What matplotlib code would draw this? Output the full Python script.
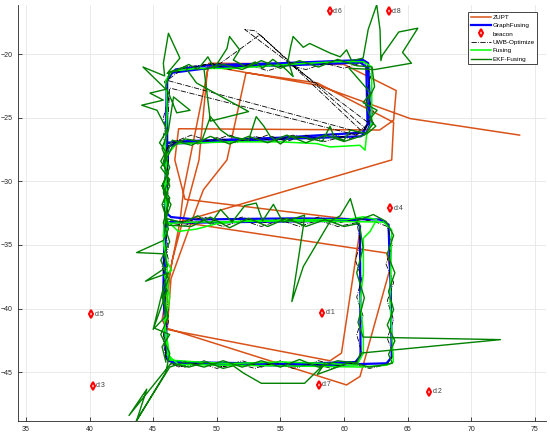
import numpy as np
import matplotlib
matplotlib.use("Agg")
import matplotlib.pyplot as plt

plt.rcParams['font.family'] = ['Liberation Sans', 'DejaVu Sans']

# ZUPT (orange) trajectory
zupt = [(45.9, -41.44), (46.3, -37.25), (47.1, -33.2), (47.4, -30.66), (49.4, -20.72),
        (60.0, -20.82), (64.1, -22.87), (63.9, -25.2), (62.8, -25.97), (47.0, -25.87),
        (46.7, -28.32), (47.5, -31.41), (61.0, -33.05), (61.3, -33.55), (59.8, -43.5),
        (58.9, -44.1), (46.1, -41.64), (46.4, -37.65), (48.4, -32.11), (48.95, -30.66),
        (50.8, -28.32), (52.3, -21.47), (57.9, -22.27), (63.9, -25.37), (63.75, -28.32),
        (47.1, -33.2), (63.36, -35.64), (63.62, -36.85), (61.26, -45.33), (60.2, -46.0),
        (46.06, -41.54), (45.7, -40.89), (46.5, -36.2), (48.6, -28.32), (49.3, -20.92),
        (58.0, -22.47), (65.2, -25.07), (73.8, -26.37)]

# GraphFusing (blue)
graph = [(46.15, -43.9), (45.85, -38.55), (45.95, -33.25), (46.0, -27.45), (46.06, -22.17),
         (46.3, -21.57), (46.8, -21.2), (49.5, -20.87), (55.0, -20.72), (61.5, -20.47),
         (61.9, -20.72), (62.0, -23.07), (62.0, -25.67), (61.8, -26.12), (61.3, -26.47),
         (53.7, -26.72), (46.9, -27.02), (46.2, -27.25), (46.05, -29.86), (46.06, -32.51),
         (46.4, -32.81), (48.4, -33.0), (56.3, -32.91), (62.8, -33.0), (63.5, -33.4),
         (63.67, -38.55), (63.75, -43.8), (63.35, -44.3), (56.3, -44.5), (46.6, -44.3),
         (46.06, -43.9), (45.8, -38.55), (45.9, -33.55), (46.3, -33.2), (48.0, -33.25),
         (56.0, -33.15), (60.9, -33.1), (61.25, -33.55), (61.28, -38.65), (61.3, -43.7),
         (60.9, -44.2), (56.0, -44.35), (46.5, -44.2), (46.05, -43.8), (45.9, -38.15),
         (46.0, -33.75), (46.1, -27.45), (46.1, -22.07), (46.5, -21.47), (50.0, -21.02),
         (56.0, -20.87), (61.3, -20.67), (61.75, -21.02), (61.85, -25.47), (61.5, -26.17),
         (55.0, -26.57), (47.0, -26.87), (46.2, -26.97)]

# UWB-Optimize (black dash-dot)
uwb = [(46.0, -44.0), (45.8, -42.54), (46.2, -41.04), (45.9, -39.59), (46.1, -38.15),
       (45.7, -36.7), (46.2, -35.2), (45.9, -33.75), (46.1, -32.31), (45.8, -30.86),
       (46.2, -29.36), (45.9, -27.92), (46.1, -26.47), (45.8, -25.02), (46.2, -23.52),
       (45.9, -22.17), (46.5, -21.42), (48.0, -21.12), (49.5, -20.72), (51.0, -21.22),
       (52.5, -20.82), (54.0, -21.32), (55.5, -20.82), (57.0, -21.22), (58.5, -20.72),
       (60.0, -21.12), (61.6, -20.62), (62.1, -21.62), (61.8, -23.07), (62.3, -24.52),
       (61.7, -25.87), (60.5, -26.67), (59.0, -26.27), (57.5, -26.77), (56.0, -26.37),
       (54.5, -26.87), (53.0, -26.47), (51.5, -26.97), (50.0, -26.57), (48.5, -27.07),
       (47.0, -26.77), (46.1, -27.37), (45.9, -28.92), (46.2, -30.36), (45.8, -31.81),
       (46.0, -33.0), (47.5, -33.2), (49.0, -32.81), (50.5, -33.3), (52.0, -32.81),
       (53.5, -33.3), (55.0, -32.91), (56.5, -33.3), (58.0, -32.81), (59.5, -33.3),
       (61.0, -32.91), (62.5, -33.2), (63.4, -33.55), (63.8, -35.05), (63.3, -36.5),
       (63.9, -37.95), (63.4, -39.4), (63.9, -40.89), (63.4, -42.34), (63.9, -43.6),
       (63.4, -44.4), (62.0, -44.7), (60.5, -44.3), (59.0, -44.7), (57.5, -44.3),
       (56.0, -44.7), (54.5, -44.2), (53.0, -44.7), (51.5, -44.3), (50.0, -44.7),
       (48.5, -44.2), (47.0, -44.6), (46.1, -44.1), (45.8, -42.04), (46.2, -40.09),
       (45.8, -38.15), (46.2, -36.2), (45.8, -34.25), (46.1, -32.31), (45.8, -30.36),
       (46.2, -28.42), (45.8, -26.47), (46.2, -24.52), (46.3, -22.67), (61.0, -26.37),
       (61.3, -26.17), (46.1, -22.07), (47.5, -21.02), (50.3, -20.72), (53.4, -18.47),
       (61.3, -25.97), (62.0, -25.47), (52.2, -18.07), (53.0, -18.17), (61.7, -25.87),
       (60.0, -26.47), (58.5, -26.87), (57.0, -26.37), (55.5, -26.87), (54.0, -26.37),
       (52.5, -26.87), (51.0, -26.37), (49.5, -26.87), (48.0, -26.37), (46.2, -27.07),
       (46.0, -29.36), (46.2, -31.31), (45.9, -33.25), (47.5, -33.45), (49.0, -33.05),
       (50.5, -33.55), (52.0, -33.05), (53.5, -33.55), (55.0, -33.05), (56.5, -33.55),
       (58.0, -33.05), (59.5, -33.55), (61.0, -33.25), (61.3, -34.75), (60.9, -36.2),
       (61.4, -37.65), (61.0, -39.1), (61.5, -40.59), (61.0, -42.04), (61.4, -43.5),
       (60.9, -44.2), (59.5, -44.5), (58.0, -44.1), (56.5, -44.6), (55.0, -44.1),
       (53.5, -44.6), (52.0, -44.1), (50.5, -44.6), (49.0, -44.1), (47.5, -44.6),
       (46.3, -44.4)]

# Fusing (light green)
fusing = [(46.2, -44.0), (45.9, -41.54), (46.3, -39.09), (45.9, -37.45), (46.46, -36.98),
          (46.06, -36.3), (45.8, -34.25), (46.1, -31.31), (45.9, -28.42), (46.1, -24.52),
          (46.0, -22.07), (46.46, -21.35), (48.42, -21.13), (51.04, -21.13), (53.14, -21.0),
          (54.97, -20.86), (57.07, -20.73), (59.43, -20.6), (61.52, -20.6), (62.18, -21.0),
          (62.18, -25.42), (61.79, -26.23), (61.65, -27.55), (61.26, -27.17), (58.9, -27.3),
          (57.86, -27.04), (54.97, -26.9), (51.04, -26.9), (46.85, -27.04), (46.1, -27.92),
          (45.9, -30.86), (46.06, -33.06), (46.98, -33.94), (48.42, -33.75), (50.0, -33.33),
          (52.35, -33.11), (54.97, -33.06), (57.59, -33.01), (60.21, -33.01), (61.52, -32.79),
          (62.57, -33.01), (62.05, -33.94), (61.52, -34.48), (61.52, -37.26), (61.26, -39.36),
          (61.52, -41.94), (61.52, -43.51), (61.0, -44.45), (58.9, -44.32), (54.97, -44.19),
          (51.04, -44.32), (48.42, -44.19), (46.33, -44.05), (45.9, -41.04), (46.2, -37.65),
          (45.8, -34.75), (46.2, -33.31), (48.0, -33.21), (55.0, -33.11), (63.1, -33.2),
          (63.75, -33.81), (63.62, -39.36), (63.88, -44.19), (63.36, -44.45), (61.26, -44.59),
          (55.0, -44.5), (47.0, -44.4), (46.1, -43.6)]

# EKF-Fusing (dark green)
ekf = [(46.0, -44.2), (45.7, -43.0), (46.3, -42.04), (45.1, -41.54), (46.0, -40.59),
       (45.8, -39.09), (46.1, -38.55), (45.0, -41.64), (45.9, -37.95), (46.2, -37.2),
       (44.4, -37.85), (46.1, -36.7), (45.9, -35.7), (43.7, -35.6), (45.8, -34.65),
       (46.2, -33.75), (45.9, -32.81), (46.3, -31.31), (45.7, -30.36), (46.2, -29.36),
       (45.6, -28.42), (46.0, -27.67), (45.5, -26.97), (46.1, -25.97), (45.3, -24.42),
       (44.1, -24.02), (45.8, -23.62), (44.75, -23.07), (46.0, -22.77), (44.2, -21.02),
       (45.9, -21.72), (45.8, -20.72), (46.2, -18.37), (47.1, -20.32), (46.1, -21.52),
       (46.8, -21.32), (47.8, -20.82), (48.5, -21.22), (49.3, -20.22), (49.8, -21.12),
       (50.8, -19.57), (51.0, -18.62), (51.8, -19.67), (51.3, -20.47), (52.3, -21.02),
       (53.0, -20.62), (53.6, -21.12), (54.4, -20.42), (55.1, -20.92), (55.5, -21.27),
       (56.0, -21.77), (55.6, -20.52), (55.8, -19.47), (56.0, -18.62), (56.8, -19.47),
       (57.3, -19.17), (58.9, -19.92), (59.7, -20.22), (60.2, -19.67), (60.6, -20.52),
       (61.5, -20.32), (61.9, -18.07), (62.57, -16.13), (62.83, -18.07), (62.9, -20.52),
       (63.0, -20.12), (64.3, -18.27), (65.8, -17.97), (64.6, -19.87), (65.3, -20.72),
       (62.4, -21.22), (60.4, -21.12), (62.1, -23.07), (61.5, -23.82), (62.6, -24.42),
       (62.0, -25.12), (62.5, -25.67), (61.8, -26.27), (60.5, -25.97), (60.0, -26.77),
       (59.2, -26.47), (58.9, -25.67), (58.3, -26.87), (57.0, -26.57), (55.8, -26.47),
       (55.0, -27.07), (54.2, -26.47), (53.7, -25.67), (53.1, -24.92), (52.5, -26.77),
       (51.0, -26.47), (50.3, -25.97), (49.5, -24.92), (48.8, -26.87), (47.5, -26.67),
       (46.5, -27.27), (46.2, -27.92), (45.6, -28.92), (46.3, -29.86), (45.8, -30.86),
       (46.4, -31.81), (46.0, -32.91), (47.3, -33.25), (48.5, -32.71), (49.5, -33.35),
       (50.3, -32.21), (51.2, -33.21), (52.2, -31.91), (53.1, -31.71), (53.6, -33.11),
       (54.45, -31.81), (55.2, -33.21), (56.9, -32.66), (56.8, -33.55), (55.9, -39.45),
       (56.8, -36.7), (58.9, -33.15), (59.7, -32.71), (60.5, -31.36), (61.0, -33.11),
       (62.3, -32.61), (63.3, -33.15), (63.9, -34.25), (63.4, -35.7), (64.0, -37.2),
       (63.5, -38.65), (63.9, -40.09), (63.4, -41.29), (64.0, -42.54), (63.5, -43.6),
       (63.8, -44.3), (62.0, -44.6), (60.5, -44.2), (59.2, -44.7), (57.9, -45.17),
       (58.5, -44.3), (56.9, -45.87), (53.5, -45.87), (52.1, -45.07), (51.3, -44.5),
       (50.5, -44.7), (49.2, -44.2), (47.8, -44.6), (46.4, -44.3), (43.1, -48.4),
       (44.5, -46.33), (43.7, -48.8), (46.0, -45.0), (46.3, -43.5), (45.6, -42.04),
       (46.2, -40.59), (45.7, -39.09), (46.2, -37.65), (45.6, -36.2), (46.3, -34.75),
       (45.8, -33.25), (46.2, -31.81), (45.7, -30.36), (46.3, -28.92), (45.7, -27.42),
       (46.2, -25.97), (46.6, -23.37), (47.9, -24.42), (46.85, -24.62), (46.0, -22.57),
       (46.3, -21.42), (47.5, -21.02), (48.4, -22.27), (52.5, -24.52), (49.5, -25.27),
       (49.0, -21.22), (50.5, -20.82), (52.0, -21.22), (53.5, -20.52), (55.0, -21.12),
       (56.5, -20.52), (58.0, -21.02), (59.5, -20.42), (61.0, -20.92), (62.2, -21.02),
       (62.4, -22.57), (61.7, -24.02), (62.3, -25.47), (61.6, -26.37), (60.0, -26.87),
       (58.5, -26.37), (57.0, -26.97), (55.5, -26.37), (54.0, -26.97), (52.5, -26.47),
       (51.0, -27.07), (49.5, -26.47), (48.0, -27.17), (46.5, -26.77), (45.8, -28.42),
       (46.3, -30.36), (45.7, -31.81), (46.2, -33.45), (48.0, -33.55), (49.5, -32.81),
       (51.0, -33.65), (52.5, -32.91), (54.0, -33.55), (55.5, -32.91), (57.0, -33.55),
       (58.5, -33.01), (60.0, -33.55), (61.2, -33.31), (61.5, -35.2), (61.0, -37.2),
       (61.6, -39.15), (61.1, -41.09), (61.5, -42.24), (72.3, -42.44), (61.3, -43.5),
       (61.0, -44.3), (59.5, -44.1), (58.0, -44.6), (56.5, -44.0), (55.0, -44.6),
       (53.5, -44.1), (52.0, -44.6), (50.5, -44.1), (49.0, -44.6), (47.5, -44.2),
       (46.3, -44.6), (43.5, -49.1)]

# beacons
beacon_names = ['d:1', 'd:2', 'd:3', 'd:4', 'd:5', 'd:6', 'd:7', 'd:8']
beacon_x = [58.3, 66.7, 40.25, 63.65, 40.15, 58.9, 58.0, 63.5]
beacon_y = [-40.33, -46.55, -46.08, -32.11, -40.43, -16.65, -46.0, -16.65]

fig = plt.figure(figsize=(5.5, 4.38), dpi=100)
ax = fig.add_axes([0.0333, 0.0395, 0.9595, 0.949])

def xy(pts):
    a = np.array(pts)
    return a[:, 0], a[:, 1]

ax.plot(*xy(zupt), color='#D95319', lw=1.1, label='ZUPT')
ax.plot(*xy(graph), color='#0000FF', lw=1.6, label='GraphFusing')
ax.plot(beacon_x, beacon_y, 'd', color='red', mfc='none', mec='red', mew=1.5, ms=4,
        ls='none', label='beacon')
for n, bx, by in zip(beacon_names, beacon_x, beacon_y):
    ax.text(bx + 0.25, by, n, fontsize=5, color='#404040', va='center', ha='left')
ax.plot(*xy(uwb), color='black', lw=0.6, ls='-.', label='UWB-Optimize')
ax.plot(*xy(fusing), color='#00FF00', lw=1.1, label='Fusing')
ax.plot(*xy(ekf), color='#008000', lw=1.0, label='EKF-Fusing')

ax.set_xlim(34.4, 75.88)
ax.set_ylim(-48.81, -16.15)
ax.set_xticks(np.arange(35, 76, 5))
ax.set_yticks(np.arange(-45, -19, 5))
ax.grid(True, color='#e6e6e6', lw=0.6)
ax.set_axisbelow(True)
ax.tick_params(direction='in', length=3, width=0.6, labelsize=5, colors='#262626', pad=4)
for s in ['top', 'right']:
    ax.spines[s].set_visible(False)
for s in ['left', 'bottom']:
    ax.spines[s].set_color('#262626')
    ax.spines[s].set_linewidth(0.6)

leg = ax.legend(loc='upper right', bbox_to_anchor=(0.9764, 0.9726),
                bbox_transform=fig.transFigure, fontsize=4.6, frameon=True,
                fancybox=False, framealpha=1, edgecolor='#262626', borderpad=0.4,
                handlelength=3.2, handletextpad=0.2, labelspacing=0.45, borderaxespad=0)
leg.get_frame().set_linewidth(0.6)

fig.savefig('out.png', dpi=100)
